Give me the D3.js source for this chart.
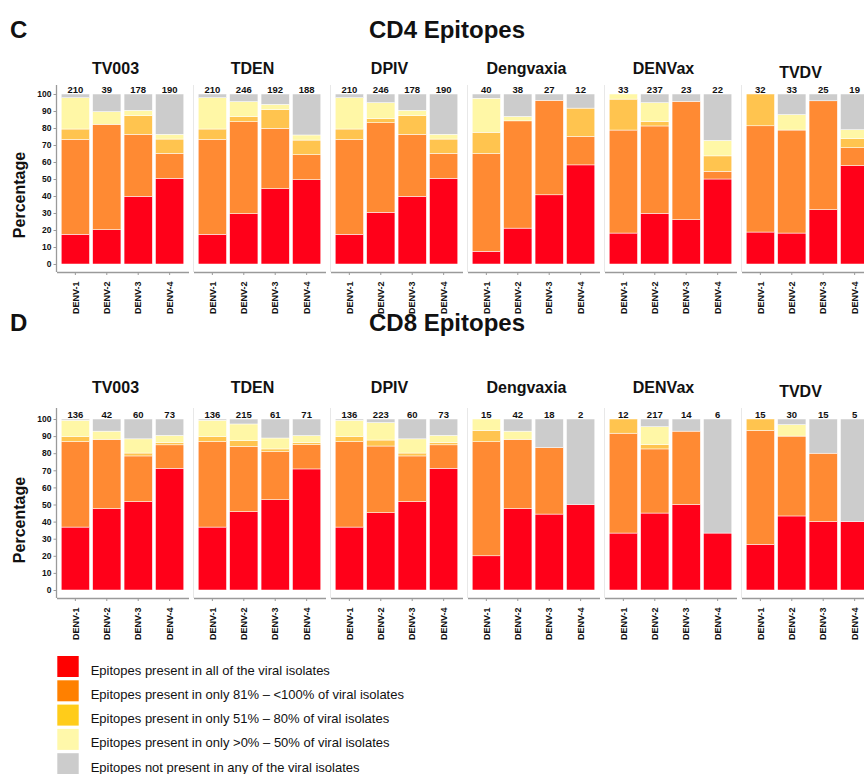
<!DOCTYPE html>
<html><head><meta charset="utf-8">
<script src="https://cdn.jsdelivr.net/npm/d3@7"></script>
<style>
body{margin:0;background:#fff}
svg{display:block}
text{font-family:"Liberation Sans",Arial,Helvetica,sans-serif;fill:#111}
</style>
</head><body>
<svg id="chart" width="864" height="774"></svg>
<script>
// ---------------- DATA ----------------
const vaccines = ["TV003", "TDEN", "DPIV", "Dengvaxia", "DENVax", "TVDV"];
const serotypes = ["DENV-1", "DENV-2", "DENV-3", "DENV-4"];
const categories = [
  "Epitopes present in all of the viral isolates",
  "Epitopes present in only 81% \u2013 <100% of viral isolates",
  "Epitopes present in only 51% \u2013 80% of viral isolates",
  "Epitopes present in only >0% \u2013 50% of viral isolates",
  "Epitopes not present in any of the viral isolates"
];
const yTicks = [0, 10, 20, 30, 40, 50, 60, 70, 80, 90, 100];

// CD4 — counts above bars, and % per category [vaccine][serotype]
const cd4Counts = [[210, 39, 178, 190], [210, 246, 192, 188], [210, 246, 178, 190], [40, 38, 27, 12], [33, 237, 23, 22], [32, 33, 25, 19]];
const cd4AllIsolates = [[17.5, 20.2, 39.8, 50.4], [17.5, 29.6, 44.3, 49.6], [17.5, 30.4, 39.8, 50.4], [7.5, 21.1, 40.7, 58.3], [18.2, 29.8, 26.1, 50.0], [18.8, 18.2, 32.0, 57.9]];
const cd4Pct81to99 = [[55.8, 62.0, 36.5, 14.7], [55.8, 54.1, 35.5, 14.7], [55.8, 52.7, 36.5, 14.7], [57.5, 63.1, 55.6, 16.7], [60.6, 51.4, 69.6, 4.5], [62.5, 60.6, 64.0, 10.5]];
const cd4Pct51to80 = [[6.1, 0, 11.0, 8.4], [6.1, 3.0, 11.0, 8.6], [6.1, 2.4, 11.0, 8.4], [12.5, 0, 0, 16.7], [18.2, 2.7, 0, 9.1], [18.7, 0, 0, 5.3]];
const cd4Pct1to50 = [[18.4, 7.4, 3.1, 2.8], [18.4, 8.8, 3.1, 3.0], [18.4, 9.4, 3.1, 2.8], [20.0, 2.6, 0, 0], [3.0, 11.0, 0, 9.1], [0, 9.1, 0, 5.3]];
const cd4None = [[2.2, 10.4, 9.6, 23.7], [2.2, 4.5, 6.1, 24.1], [2.2, 5.1, 9.6, 23.7], [2.5, 13.2, 3.7, 8.3], [0, 5.1, 4.3, 27.3], [0, 12.1, 4.0, 21.0]];

// CD8
const cd8Counts = [[136, 42, 60, 73], [136, 215, 61, 71], [136, 223, 60, 73], [15, 42, 18, 2], [12, 217, 14, 6], [15, 30, 15, 5]];
const cd8AllIsolates = [[36.8, 47.6, 51.7, 71.2], [36.8, 45.8, 52.8, 70.8], [36.8, 45.2, 51.7, 71.2], [20.0, 47.6, 44.4, 50.0], [33.3, 45.0, 50.0, 33.3], [26.7, 43.3, 40.0, 40.0]];
const cd8Pct81to99 = [[50.0, 40.5, 26.7, 13.7], [50.0, 38.2, 28.1, 14.2], [50.0, 39.0, 26.7, 13.7], [66.7, 40.5, 38.9, 0], [58.4, 37.5, 42.9, 0], [66.6, 46.7, 40.0, 0]];
const cd8Pct51to80 = [[2.9, 0, 1.7, 1.4], [2.9, 3.3, 1.6, 1.2], [2.9, 3.5, 1.7, 1.4], [6.6, 0, 0, 0], [8.3, 2.5, 0, 0], [6.7, 0, 0, 0]];
const cd8Pct1to50 = [[9.6, 4.8, 8.3, 4.1], [9.6, 9.8, 6.4, 4.1], [9.6, 10.2, 8.3, 4.1], [6.7, 4.8, 0, 0], [0, 10.5, 0, 0], [0, 6.7, 0, 0]];
const cd8None = [[0.7, 7.1, 11.6, 9.6], [0.7, 2.9, 11.1, 9.7], [0.7, 2.1, 11.6, 9.6], [0, 7.1, 16.7, 50.0], [0, 4.5, 7.1, 66.7], [0, 3.3, 20.0, 60.0]];

// ---------------- STYLE ----------------
const barFills = ["#ff0019", "#ff8a33", "#ffc44f", "#fff7a6", "#cccccc"];
const legendFills = ["#ff0000", "#ff8000", "#ffcc1a", "#fff8aa", "#cccccc"];
const layerKeys = ["all", "p81", "p51", "p1", "none"];

const svg = d3.select("#chart");

function drawSection(cfg, counts, layers) {
  const g = svg.append("g");
  g.append("text").attr("x", 10).attr("y", cfg.headY)
    .attr("font-size", 24).attr("font-weight", "bold").text(cfg.letter);
  g.append("text").attr("x", 447).attr("y", cfg.headY).attr("text-anchor", "middle")
    .attr("font-size", 24).attr("font-weight", "bold").text(cfg.title);

  const y = d3.scaleLinear().domain([0, 100]).range([cfg.y0, cfg.y100]);

  // Percentage label
  g.append("text")
    .attr("transform", `translate(25,${cfg.pctY}) rotate(-90)`)
    .attr("text-anchor", "middle").attr("font-size", 16).attr("font-weight", "bold")
    .text("Percentage");

  vaccines.forEach((vac, i) => {
    const left = 56.5 + i * 137;
    const width = 132;
    const x = d3.scaleBand().domain(serotypes).range([left, left + width])
      .paddingInner(0.1).paddingOuter(0.15);

    const rows = serotypes.map((s, j) => {
      const r = { serotype: s, count: counts[i][j] };
      layerKeys.forEach((k, c) => r[k] = layers[c][i][j]);
      return r;
    });
    const series = d3.stack().keys(layerKeys)(rows);

    const pg = g.append("g");
    // left panel border
    pg.append("line").attr("x1", left).attr("x2", left)
      .attr("y1", cfg.panelTop).attr("y2", cfg.axisY)
      .attr("stroke", i === 0 ? "#9a9a9a" : "#e8e8e8").attr("stroke-width", i === 0 ? 1.3 : 1);

    series.forEach((s, c) => {
      pg.append("g").selectAll("rect").data(s).join("rect")
        .attr("x", d => x(d.data.serotype))
        .attr("width", x.bandwidth())
        .attr("y", d => y(d[1]))
        .attr("height", d => Math.max(0, y(d[0]) - y(d[1])))
        .attr("fill", barFills[c])
        .attr("stroke", d => (d[1] - d[0]) > 0 ? "#fff" : "none")
        .attr("stroke-width", 0.5);
    });

    // counts
    pg.selectAll("text.cnt").data(rows).join("text")
      .attr("class", "cnt")
      .attr("x", d => x(d.serotype) + x.bandwidth() / 2)
      .attr("y", cfg.y100 - 1.5)
      .attr("text-anchor", "middle").attr("font-size", 9.5).attr("font-weight", "bold")
      .text(d => d.count);

    // panel title
    pg.append("text")
      .attr("x", left + width / 2 - 7)
      .attr("y", i === 5 ? cfg.titleY + 4 : cfg.titleY)
      .attr("text-anchor", "middle").attr("font-size", 16).attr("font-weight", "bold")
      .text(vac);

    // x axis
    const xa = pg.append("g").attr("transform", `translate(0,${cfg.axisY})`)
      .call(d3.axisBottom(x).tickSize(3).tickSizeOuter(0));
    xa.select(".domain").attr("stroke", "#9a9a9a").attr("stroke-width", 1.3);
    xa.selectAll(".tick line").attr("stroke", "#9a9a9a");
    xa.selectAll(".tick text")
      .attr("transform", "rotate(-90)")
      .attr("text-anchor", "end")
      .attr("x", -9.5).attr("y", 0).attr("dy", "0.35em")
      .attr("font-size", 9).attr("font-weight", "bold")
      .attr("font-family", '"Liberation Sans",Arial,sans-serif')
      .attr("fill", "#111");

    if (i === 0) {
      const ya = pg.append("g").attr("transform", `translate(${left},0)`)
        .call(d3.axisLeft(y).tickValues(yTicks).tickSize(3).tickPadding(2));
      ya.select(".domain").remove();
      ya.selectAll(".tick line").attr("stroke", "#9a9a9a");
      ya.selectAll(".tick text")
        .attr("font-size", 8.5).attr("font-weight", "bold")
        .attr("font-family", '"Liberation Sans",Arial,sans-serif')
        .attr("fill", "#111");
    }
  });
}

drawSection({ letter: "C", title: "CD4 Epitopes", headY: 38, titleY: 74, y0: 264, y100: 94, axisY: 272, panelTop: 85, pctY: 195 },
  cd4Counts, [cd4AllIsolates, cd4Pct81to99, cd4Pct51to80, cd4Pct1to50, cd4None]);
drawSection({ letter: "D", title: "CD8 Epitopes", headY: 331, titleY: 393, y0: 590, y100: 419, axisY: 598, panelTop: 408, pctY: 520 },
  cd8Counts, [cd8AllIsolates, cd8Pct81to99, cd8Pct51to80, cd8Pct1to50, cd8None]);

// legend
const lg = svg.append("g");
categories.forEach((c, k) => {
  const top = 656 + k * 24.3;
  lg.append("rect").attr("x", 57.3).attr("y", top).attr("width", 21.4).attr("height", 21)
    .attr("fill", legendFills[k]);
  lg.append("text").attr("x", 90.7).attr("y", top + 18.5)
    .attr("font-size", 13).attr("fill", "#222").text(c);
});
</script>
</body></html>
